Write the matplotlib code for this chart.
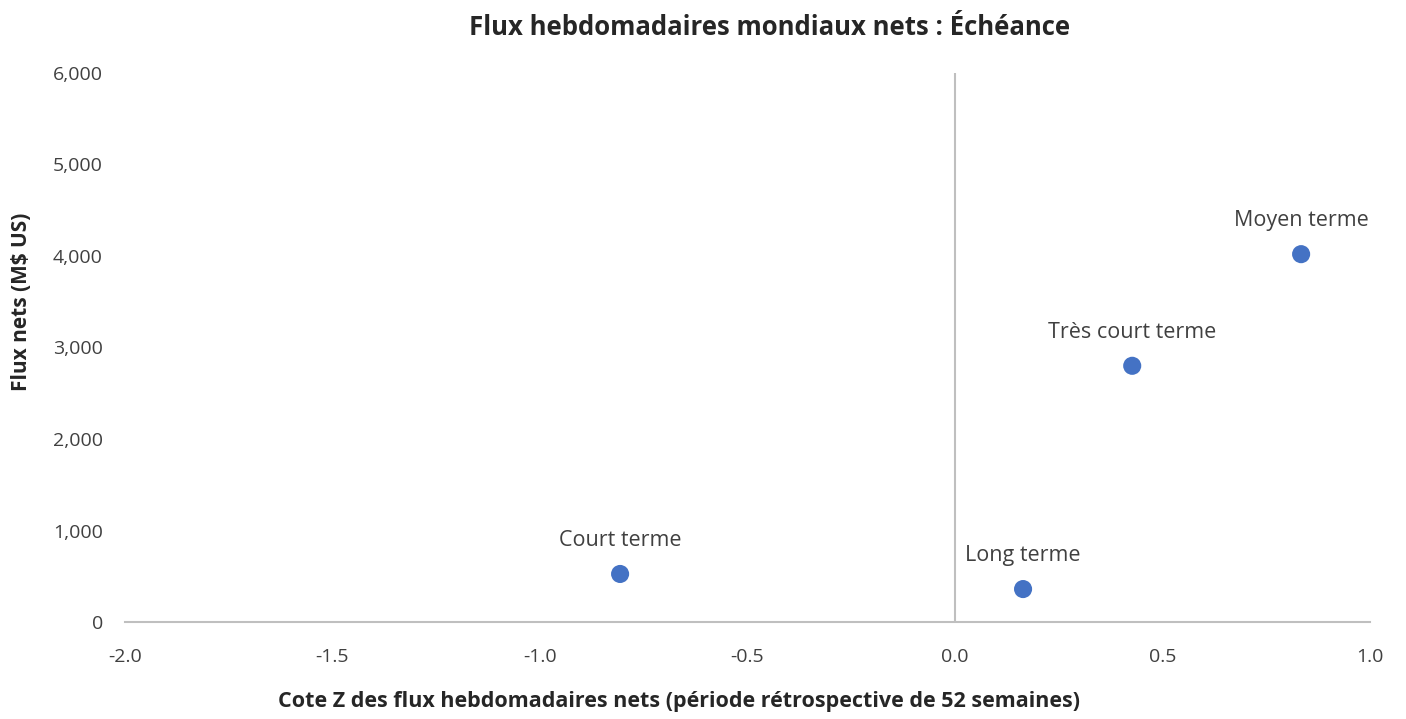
import matplotlib.pyplot as plt
from matplotlib.ticker import FuncFormatter

plt.rcParams['font.family'] = ['Open Sans', 'DejaVu Sans']

# Data
labels = ['Court terme', 'Long terme', 'Très court terme', 'Moyen terme']
z_scores = [-0.807, 0.164, 0.427, 0.834]
flows = [525, 360, 2800, 4020]

fig = plt.figure(figsize=(14.06, 7.19), dpi=100)
ax = fig.add_axes([0.0889, 0.1349, 0.8855, 0.7636])

ax.scatter(z_scores, flows, s=170, color='#4472C4', zorder=3, edgecolors='none')
for lab, x, y in zip(labels, z_scores, flows):
    ax.annotate(lab, (x, y), xytext=(0, 24), textcoords='offset points',
                ha='center', va='center', fontsize=15.5, color='#404040')

ax.set_xlim(-2.0, 1.0)
ax.set_ylim(0, 6000)
ax.set_xticks([-2.0, -1.5, -1.0, -0.5, 0.0, 0.5, 1.0])
ax.set_yticks(range(0, 6001, 1000))
ax.xaxis.set_major_formatter(FuncFormatter(lambda v, p: f'{v:.1f}'))
ax.yaxis.set_major_formatter(FuncFormatter(lambda v, p: f'{int(v):,}'))

for s in ['top', 'right', 'left']:
    ax.spines[s].set_visible(False)
ax.spines['bottom'].set_color('#BFBFBF')
ax.spines['bottom'].set_linewidth(1.5)
ax.axvline(0, color='#BFBFBF', linewidth=1.5, zorder=1)

ax.tick_params(axis='both', length=0, labelsize=14, colors='#404040')
ax.tick_params(axis='y', pad=16)
ax.tick_params(axis='x', pad=19)

ax.set_title('Flux hebdomadaires mondiaux nets : Échéance', fontsize=18.5,
             fontweight='bold', color='#262626', pad=27, x=0.518)
ax.set_xlabel('Cote Z des flux hebdomadaires nets (période rétrospective de 52 semaines)',
              fontsize=15.5, fontweight='bold', color='#262626')
ax.xaxis.set_label_coords(0.445, -0.125)
ax.set_ylabel('Flux nets (M$ US)', fontsize=15, fontweight='bold',
              color='#262626')
ax.yaxis.set_label_coords(-0.075, 0.583)

fig.savefig('out.png', dpi=100)
